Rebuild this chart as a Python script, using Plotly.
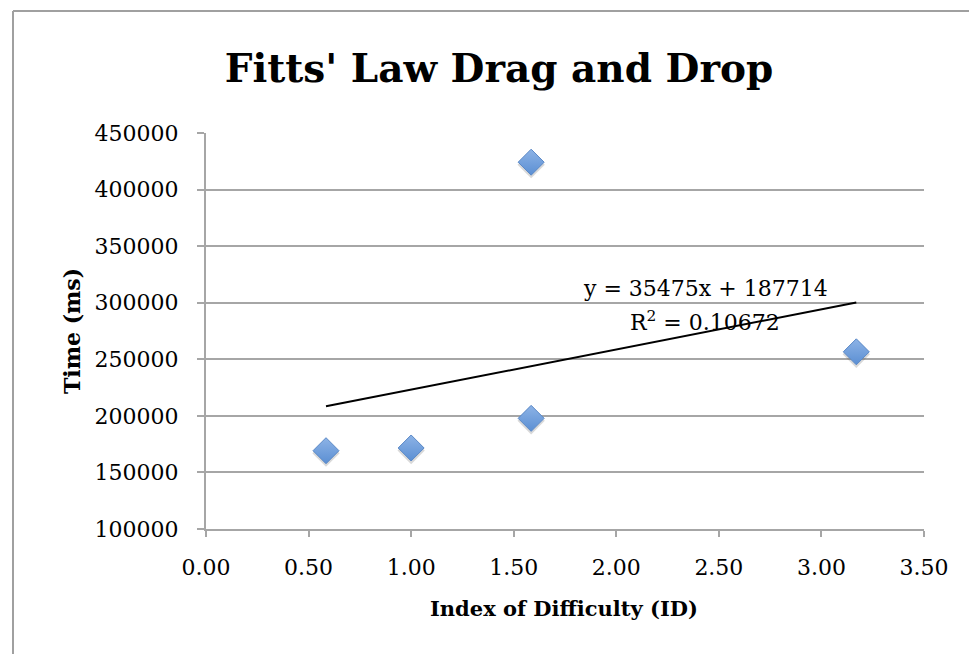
import plotly.graph_objects as go

# Index of difficulty (bits) and movement time (ms) for the drag-and-drop trials
id_values = [0.585, 1.0, 1.585, 1.585, 3.17]
time_ms = [169200, 171600, 197800, 424200, 256600]

# Linear trendline reported for the data
slope = 35475
intercept = 187714
r_squared = 0.10672

x_ticks = [0.0, 0.5, 1.0, 1.5, 2.0, 2.5, 3.0, 3.5]
y_ticks = [100000, 150000, 200000, 250000, 300000, 350000, 400000, 450000]

FONT = "DejaVu Serif"
GRID = "#a6a6a6"

W, H = 969, 654
L, R, T, B = 206, 45, 133, 125
plot_w = W - L - R
plot_h = H - T - B


def px_x(p):
    return (p - L) / plot_w


def px_y(p):
    return (H - B - p) / plot_h


x_lo, x_hi = min(id_values), max(id_values)
trend_x = [x_lo, x_hi]
trend_y = [slope * v + intercept for v in trend_x]

# soft drop shadow a couple of pixels below each marker
shadow_dy = 2.5 * (y_ticks[-1] - y_ticks[0]) / plot_h

fig = go.Figure()
fig.add_trace(go.Scatter(
    x=id_values, y=[v - shadow_dy for v in time_ms], mode="markers",
    marker=dict(symbol="diamond", size=21, color="rgba(80,80,80,0.22)",
                line=dict(width=0)),
    hoverinfo="skip", showlegend=False,
))
fig.add_trace(go.Scatter(
    x=trend_x, y=trend_y, mode="lines",
    line=dict(color="black", width=2), showlegend=False,
))
fig.add_trace(go.Scatter(
    x=id_values, y=time_ms, mode="markers",
    marker=dict(symbol="diamond", size=20, color="#8db3e6",
                gradient=dict(type="vertical", color="#5b8fd3"),
                line=dict(color="#5a88c6", width=1)),
    showlegend=False,
))

fig.update_layout(
    width=W, height=H,
    margin=dict(l=L, r=R, t=T, b=B),
    paper_bgcolor="white", plot_bgcolor="white",
    font=dict(family=FONT, size=22, color="black"),
    title=dict(text="<b>Fitts' Law Drag and Drop</b>",
               font=dict(family=FONT, size=39, color="black"),
               x=499 / W, xanchor="center", xref="container",
               y=1 - 68 / H, yanchor="middle", yref="container"),
    xaxis=dict(range=[x_ticks[0], x_ticks[-1]], tickvals=x_ticks,
               ticktext=[f"{v:.2f}" for v in x_ticks],
               showgrid=False, zeroline=False,
               showline=True, linecolor=GRID, linewidth=2,
               ticks="outside", ticklen=6, tickcolor=GRID, tickwidth=2,
               ticklabelstandoff=12,
               tickfont=dict(family=FONT, size=22)),
    yaxis=dict(range=[y_ticks[0], y_ticks[-1]], tickvals=y_ticks,
               ticktext=[str(v) for v in y_ticks],
               showgrid=True, gridcolor=GRID, gridwidth=2, zeroline=False,
               showline=True, linecolor=GRID, linewidth=2,
               ticks="outside", ticklen=7, tickcolor=GRID, tickwidth=2,
               ticklabelstandoff=14,
               tickfont=dict(family=FONT, size=22)),
)

annotations = [
    dict(text="<b>Index of Difficulty (ID)</b>", x=px_x(564), y=px_y(608),
         xref="paper", yref="paper", showarrow=False,
         xanchor="center", yanchor="middle",
         font=dict(family=FONT, size=21)),
    dict(text="<b>Time (ms)</b>", x=px_x(72), y=px_y(331),
         xref="paper", yref="paper", showarrow=False, textangle=-90,
         xanchor="center", yanchor="middle",
         font=dict(family=FONT, size=22)),
    dict(text=f"y = {slope}x + {intercept}", x=px_x(705), y=px_y(288),
         xref="paper", yref="paper", showarrow=False,
         xanchor="center", yanchor="middle",
         font=dict(family=FONT, size=22)),
    dict(text=f"R<sup>2</sup> = {r_squared}", x=px_x(705), y=px_y(321),
         xref="paper", yref="paper", showarrow=False,
         xanchor="center", yanchor="middle",
         font=dict(family=FONT, size=22)),
]
fig.update_layout(annotations=annotations)

# chart frame: top and left edges
frame = dict(color="#a0a0a0", width=2)
fig.add_shape(type="line", xref="paper", yref="paper",
              x0=px_x(13), x1=px_x(W + 5), y0=px_y(11), y1=px_y(11), line=frame)
fig.add_shape(type="line", xref="paper", yref="paper",
              x0=px_x(13), x1=px_x(13), y0=px_y(11), y1=px_y(H + 5), line=frame)

fig.write_html("out.html")
